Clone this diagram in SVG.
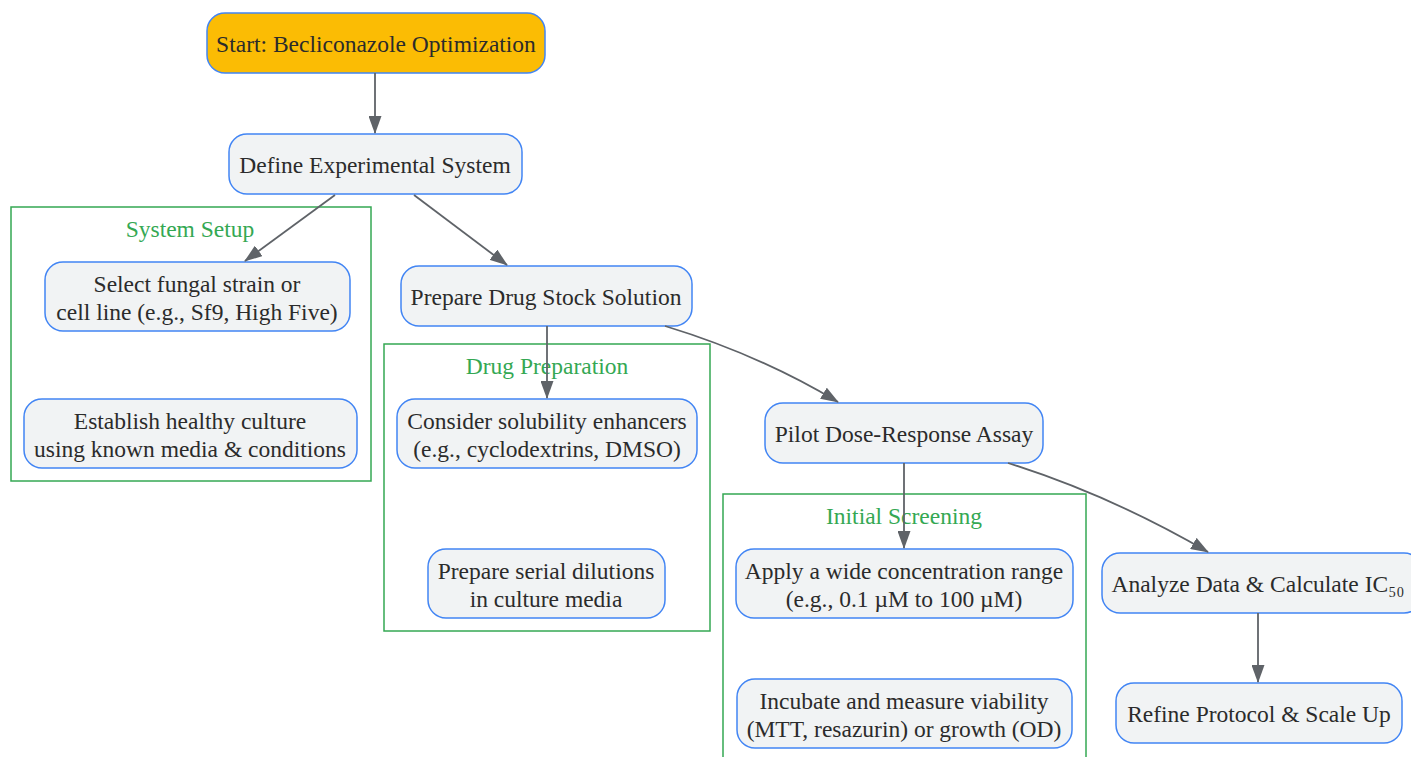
<svg xmlns="http://www.w3.org/2000/svg" width="1411" height="757" viewBox="0 0 1411 757">
<defs>
<marker id="arr" markerUnits="userSpaceOnUse" markerWidth="18" markerHeight="13" viewBox="0 0 18 13" refX="17" refY="6.5" orient="auto">
<path d="M0,0 L18,6.5 L0,13 z" fill="#5f6368"/>
</marker>
<style>
.node{fill:#F1F3F4;stroke:#4285F4;stroke-width:1.5}
.start{fill:#FBBC04;stroke:#4285F4;stroke-width:1.5}
.cl{fill:none;stroke:#34A853;stroke-width:1.5}
.cll{font-family:"Liberation Serif",serif;font-size:23.5px;fill:#34A853;text-anchor:middle}
.t{font-family:"Liberation Serif",serif;font-size:23.5px;fill:#2b2b2b;text-anchor:middle}
.e{fill:none;stroke:#5f6368;stroke-width:1.8;marker-end:url(#arr)}
</style>
</defs>
<rect width="1411" height="757" fill="#ffffff"/>
<g id="clusters">
<g id="c-system"><rect class="cl" x="11" y="207" width="360" height="274"/><text class="cll" x="190" y="237">System Setup</text></g>
<g id="c-drug"><rect class="cl" x="384" y="344" width="326" height="287"/><text class="cll" x="547" y="374">Drug Preparation</text></g>
<g id="c-screen"><rect class="cl" x="723" y="494" width="363" height="270"/><text class="cll" x="904" y="524">Initial Screening</text></g>
</g>
<g id="start"><rect class="start" x="207" y="13" width="338" height="60" rx="18"/><text class="t" x="376" y="52">Start: Becliconazole Optimization</text></g>
<g id="define"><rect class="node" x="229" y="134" width="293" height="60" rx="18"/><text class="t" x="375" y="173">Define Experimental System</text></g>
<g id="select"><rect class="node" x="45" y="262" width="305" height="69" rx="18"/><text class="t" x="197" y="292">Select fungal strain or</text><text class="t" x="197" y="320">cell line (e.g., Sf9, High Five)</text></g>
<g id="establish"><rect class="node" x="24" y="399" width="333" height="69" rx="18"/><text class="t" x="190" y="429">Establish healthy culture</text><text class="t" x="190" y="457">using known media &amp; conditions</text></g>
<g id="stock"><rect class="node" x="401" y="266" width="291" height="60" rx="18"/><text class="t" x="546" y="305">Prepare Drug Stock Solution</text></g>
<g id="consider"><rect class="node" x="397" y="399" width="300" height="69" rx="18"/><text class="t" x="547" y="429">Consider solubility enhancers</text><text class="t" x="547" y="457">(e.g., cyclodextrins, DMSO)</text></g>
<g id="serial"><rect class="node" x="428" y="549" width="237" height="69" rx="18"/><text class="t" x="546" y="579">Prepare serial dilutions</text><text class="t" x="546" y="607">in culture media</text></g>
<g id="pilot"><rect class="node" x="765" y="403" width="278" height="60" rx="18"/><text class="t" x="904" y="442">Pilot Dose-Response Assay</text></g>
<g id="apply"><rect class="node" x="736" y="549" width="337" height="69" rx="18"/><text class="t" x="904" y="579">Apply a wide concentration range</text><text class="t" x="904" y="607">(e.g., 0.1 µM to 100 µM)</text></g>
<g id="incubate"><rect class="node" x="737" y="679" width="335" height="69" rx="18"/><text class="t" x="904" y="709">Incubate and measure viability</text><text class="t" x="904" y="737">(MTT, resazurin) or growth (OD)</text></g>
<g id="analyze"><rect class="node" x="1102" y="553" width="320" height="60" rx="18"/><text class="t" x="1258" y="592">Analyze Data &amp; Calculate IC₅₀</text></g>
<g id="refine"><rect class="node" x="1116" y="683" width="286" height="60" rx="18"/><text class="t" x="1259" y="722">Refine Protocol &amp; Scale Up</text></g>
<g id="edges">
<path class="e" d="M375,73 L375,133"/>
<path class="e" d="M335,195 L245,261"/>
<path class="e" d="M414,195 L507,265"/>
<path class="e" d="M547,326 L547,398"/>
<path class="e" d="M665,326 Q760,355 838,402"/>
<path class="e" d="M904,463 L904,548"/>
<path class="e" d="M1008,463 Q1110,495 1208,552"/>
<path class="e" d="M1258,613 L1258,682"/>
</g>
</svg>
